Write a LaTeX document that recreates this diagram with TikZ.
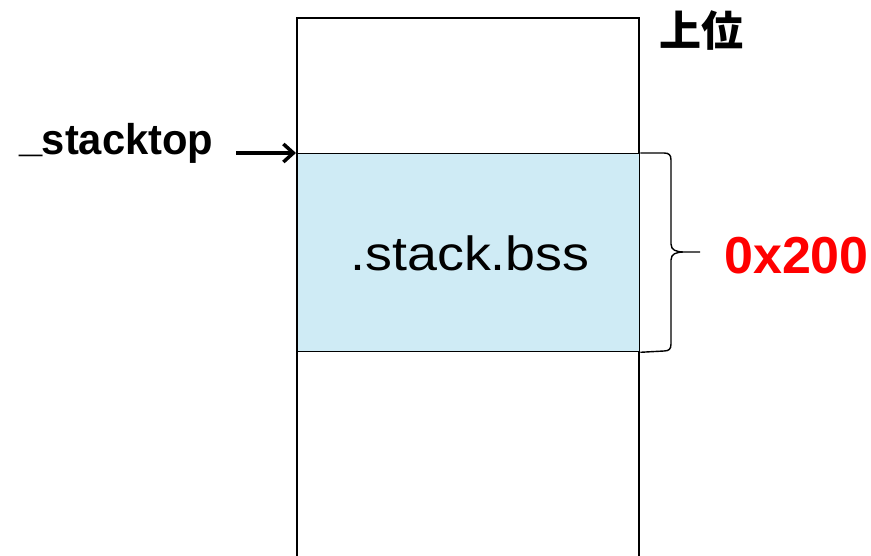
\documentclass[tikz,border=0pt]{standalone}
\usepackage{fontspec}
\setmainfont{Liberation Sans}
\newfontfamily\jpfont{Noto Sans CJK JP}
\usetikzlibrary{arrows.meta}
\definecolor{stackblue}{RGB}{207,235,245}
\definecolor{labelred}{RGB}{255,0,0}
\begin{document}
\begin{tikzpicture}[x=1pt,y=1pt,
  frame/.style={line width=1.3pt,draw=black},
  lbl/.style={inner sep=0pt}]
\useasboundingbox (0,0) rectangle (871,555);
% outer memory column
\draw[frame] (297,-5) -- (297,537) -- (639,537) -- (639,-5);
% stack region
\node[frame,fill=stackblue,minimum width=342pt,minimum height=198pt,inner sep=0pt,anchor=north west] (stk) at (297,402) {};
\node[lbl,anchor=base,xscale=1.12,font=\fontsize{48}{52}\selectfont] (stktxt) at (470,284) {.stack.bss};
% labels
\node[lbl,anchor=base west,xscale=0.97,font=\fontsize{43}{48}\selectfont\bfseries] (top) at (19,400) {\raisebox{3.5pt}{\_}\kern-0.5pt stacktop};
\node[lbl,font=\jpfont\fontsize{42}{46}\selectfont\bfseries] (jyoui) at (701,524) {上位};
\node[lbl,anchor=base west,text=labelred,font=\fontsize{52}{56}\selectfont\bfseries] (size) at (724,281) {0x200};
% pointer arrow
\coordinate (ptrend) at (stk.north west);
\draw[line width=4pt,-{Straight Barb[length=10pt,width=18pt,line width=3.5pt]}] ([xshift=-61pt]ptrend) -- ([xshift=-1pt]ptrend);
% brace
\draw[line width=1.4pt] (stk.north east) -- (664,402) .. controls (669,402) and (671,400) .. (671,395)
  -- (671,311) .. controls (671,305) and (676,303) .. (684,303) -- (700,303)
  (684,303) .. controls (676,303) and (671,301) .. (671,295)
  -- (671,211) .. controls (671,206) and (669,204) .. (664,204) -- (stk.south east);
\end{tikzpicture}
\end{document}
